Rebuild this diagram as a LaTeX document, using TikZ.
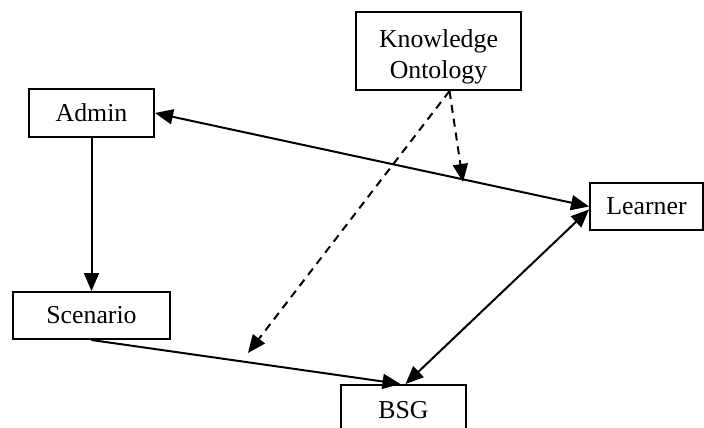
\documentclass[tikz,border=0pt]{standalone}
\usepackage{fontspec}
\setmainfont{Liberation Serif}
\usetikzlibrary{arrows.meta,calc}
\begin{document}
\begin{tikzpicture}[x=0.5pt,y=-0.5pt,
  label font/.style={font=\fontsize{12.9}{15.5}\selectfont},
  box/.style={draw,line width=1pt,inner sep=0pt,align=center,label font},
  tip/.style={Triangle[length=9pt,width=7.5pt]},
  link/.style={line width=1pt,-{Triangle[length=9pt,width=7.5pt]}},
  biglink/.style={line width=1pt,{Triangle[length=9pt,width=7.5pt]}-{Triangle[length=9pt,width=7.5pt]}},
  hint/.style={link,dash pattern=on 4pt off 3pt}]
\useasboundingbox (0,0) rectangle (704,427);
% boxes (corners in pixel units)
\node[box,minimum width=165*0.5pt,minimum height=78*0.5pt] (ko) at (438.5,51) {};
\node[label font,align=center,inner sep=0pt] (kotext) at (438.5,57) {Knowledge\\Ontology};
\node[box,minimum width=125*0.5pt,minimum height=48*0.5pt] (admin) at (91.5,113) {Admin};
\node[box,minimum width=113*0.5pt,minimum height=47*0.5pt] (learner) at (646.5,206.5) {Learner};
\node[box,minimum width=157*0.5pt,minimum height=47*0.5pt] (scenario) at (91.5,315.5) {Scenario};
\node[box,minimum width=125*0.5pt,minimum height=50*0.5pt] (bsg) at (403.5,410) {BSG};
% ends of the dashed hints
\coordinate (kofoot) at ($(ko.south)+(11,0)$);
\coordinate (hintA) at (463,182);
\coordinate (hintB) at (248,353);
% connectors
\draw[link] (admin.south) -- (scenario.north);
\draw[biglink] (admin.east) -- (learner.west);
\draw[biglink] ($(learner.west)+(0,3)$) -- ($(bsg.north)+(2,0)$);
\draw[link] (scenario.south) -- ($(bsg.north)+(-3,0)$);
\draw[hint] (kofoot) -- (hintA);
\draw[hint] (kofoot) -- (hintB);
\end{tikzpicture}
\end{document}
